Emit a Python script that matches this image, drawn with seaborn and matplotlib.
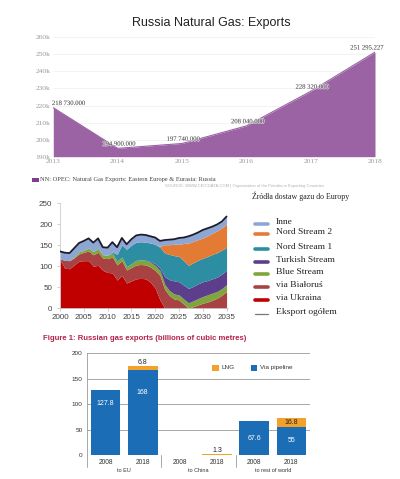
import numpy as np
import pandas as pd
import matplotlib
matplotlib.use("Agg")
import matplotlib.pyplot as plt
import matplotlib.transforms as mtransforms
import matplotlib.patheffects as pe
from matplotlib.lines import Line2D
from matplotlib.patches import Rectangle
import seaborn as sns

# ---------------- data: chart 1 (CEIC) ----------------
exp_years = [2013, 2014, 2015, 2016, 2017, 2018]
exp_values = [218730.000, 194900.000, 197740.000, 208040.000, 228320.000, 251295.227]
exp_yticks = [190000, 200000, 210000, 220000, 230000, 240000, 250000, 260000]
exp_ytick_labels = ["190k", "200k", "210k", "220k", "230k", "240k", "250k", "260k"]

# ---------------- data: chart 2 (sources of gas to Europe) ----------------
src_years = list(range(2000, 2036))
via_ukraina = [115, 95, 94, 103, 112, 113, 113, 100, 102, 90, 85, 84, 67, 78, 60, 65, 70, 71,
               70, 62, 48, 20, 0, 0, 0, 0, 0, 0, 0, 0, 0, 0, 0, 0, 0, 0]
via_bialorus = [2, 19, 19, 17, 17, 20, 23, 27, 31, 29, 33, 38, 36, 35, 31, 32, 33, 33,
                33, 36, 42, 58, 45, 30, 22, 20, 10, 0, 4, 8, 12, 15, 19, 24, 31, 40]
blue_stream = [0, 0, 0, 3, 5, 5, 7, 8, 9, 8, 8, 9, 9, 9, 8, 9, 11, 11,
               11, 11, 12, 12, 12, 12, 12, 12, 12, 13, 14, 15, 16, 17, 17, 16, 16, 16]
turkish_stream = [0, 0, 0, 0, 0, 0, 0, 0, 0, 0, 0, 0, 0, 0, 0, 0, 0, 0,
                  0, 2, 4, 6, 18, 26, 31, 31, 33, 34, 34, 35, 35, 34, 34, 34, 34, 34]
nord_stream_1 = [0, 0, 0, 0, 0, 0, 0, 0, 0, 0, 0, 3, 16, 29, 41, 44, 43, 43,
                 43, 44, 46, 49, 56, 60, 60, 60, 58, 55, 56, 56, 56, 57, 58, 58, 57, 55]
nord_stream_2 = [0, 0, 0, 0, 0, 0, 0, 0, 0, 0, 0, 0, 0, 0, 0, 0, 0, 0,
                 0, 0, 0, 2, 20, 23, 27, 29, 41, 53, 51, 49, 48, 49, 50, 52, 53, 55]
inne = [18, 18, 18, 20, 21, 22, 23, 21, 24, 18, 18, 23, 17, 16, 12, 14, 16, 17,
        17, 16, 16, 13, 11, 12, 12, 15, 14, 16, 16, 17, 19, 18, 16, 15, 15, 18]
eksport_ogolem = [135, 132, 131, 143, 155, 160, 166, 156, 166, 145, 144, 157, 145, 167, 152, 164,
                  173, 175, 174, 171, 168, 160, 162, 163, 164, 167, 168, 171, 175, 180, 186, 190,
                  194, 199, 206, 218]
src_labels = ["Inne", "Nord Stream 2", "Nord Stream 1", "Turkish Stream", "Blue Stream",
              "via Białoruś", "via Ukraina", "Eksport ogółem"]

# ---------------- data: chart 3 (Russian gas exports, bcm) ----------------
bar_groups = ["to EU", "to China", "to rest of world"]
bar_years = ["2008", "2018", "2008", "2018", "2008", "2018"]
via_pipeline = [127.8, 168, 0, 0, 67.6, 55]
lng = [0, 6.8, 0, 1.3, 0, 16.8]
pipe_labels = ["127.8", "168", "", "", "67.6", "55"]
lng_labels = ["", "6.8", "", "1.3", "", "16.8"]

# ---------------- figure ----------------
sns.set_theme(style="white")
plt.rcParams["font.family"] = ["Liberation Sans", "DejaVu Sans"]

W, H = 400, 479
fig = plt.figure(figsize=(W / 100, H / 100), dpi=100)
fig.patch.set_facecolor("white")


def fx(px):
    return px / W


def fy(py):
    return 1 - py / H


def axes_px(x0, y0, x1, y1):
    return fig.add_axes([fx(x0), fy(y1), fx(x1) - fx(x0), (y1 - y0) / H])


SERIF = ["Liberation Serif", "DejaVu Serif"]

# ===== chart 1 =====
ax1 = axes_px(53.3, 37.3, 375, 156.7)
purple = "#9b62a4"
ax1.fill_between(exp_years, exp_values, 190000, color=purple, linewidth=0, zorder=2)
sns.lineplot(x=exp_years, y=exp_values, ax=ax1, color=purple, linewidth=0.8, zorder=3)
ax1.set_xlim(2013, 2018)
ax1.set_ylim(190000, 260000)
ax1.set_yticks(exp_yticks)
ax1.set_yticklabels(exp_ytick_labels, family=SERIF, fontsize=5.4, color="#999999")
ax1.set_xticks(exp_years)
ax1.set_xticklabels([str(y) for y in exp_years], family=SERIF, fontsize=5.4, color="#999999")
ax1.tick_params(axis="both", length=0, pad=2)
ax1.grid(axis="y", color="#eeeeee", linewidth=0.5, zorder=0)
for s in ax1.spines.values():
    s.set_visible(False)
ax1.set_xlabel("")
ax1.set_ylabel("")
for i, (yr, v) in enumerate(zip(exp_years, exp_values)):
    txt = f"{v:,.3f}".replace(",", " ")
    if i == 0:
        ha, dx = "left", -1
    elif i == len(exp_years) - 1:
        ha, dx = "center", -6
    else:
        ha, dx = "center", 1
    ax1.annotate(txt, (yr, v), xytext=(dx, 3), textcoords="offset points", ha=ha, va="center",
                 fontsize=4.8, color="#555555", family=SERIF, zorder=5, annotation_clip=False,
                 path_effects=[pe.withStroke(linewidth=1.0, foreground=(1, 1, 1, 0.6))])

fig.text(fx(211), fy(22.7), "Russia Natural Gas: Exports", ha="center", va="center",
         fontsize=9, color="#222222", family=["Liberation Sans", "DejaVu Sans"])
fig.patches.append(Rectangle((fx(32), fy(182)), fx(7), 4 / H, transform=fig.transFigure,
                             color="#7d3f8c", linewidth=0))
fig.text(fx(40.5), fy(180), "NN: OPEC: Natural Gas Exports: Eastern Europe & Eurasia: Russia",
         ha="left", va="center", fontsize=4.6, color="#444444", family=SERIF)
fig.text(fx(165), fy(186.3),
         "SOURCE: WWW.CEICDATA.COM | Organization of the Petroleum Exporting Countries",
         ha="left", va="center", fontsize=3.0, color="#b0b0b0", family=["Liberation Sans", "DejaVu Sans"])

# ===== chart 2 =====
ax2 = axes_px(60, 203, 228, 308.3)
layers = [via_ukraina, via_bialorus, blue_stream, turkish_stream, nord_stream_1, nord_stream_2, inne]
layer_colors = ["#c00000", "#a94343", "#7fa63c", "#5d3e8c", "#2d8ea3", "#e37b35", "#8ea6d4"]
ax2.stackplot(src_years, *layers, colors=layer_colors, linewidth=0, zorder=2)
sns.lineplot(x=src_years, y=eksport_ogolem, ax=ax2, color="#1b1b2b", linewidth=1.3, zorder=4)
ax2.set_xlim(2000, 2035.3)
ax2.set_ylim(0, 250)
ax2.set_yticks([0, 50, 100, 150, 200, 250])
ax2.set_yticklabels(["0", "50", "100", "150", "200", "250"], fontsize=5.8, color="#444444")
ax2.set_xticks([2000, 2005, 2010, 2015, 2020, 2025, 2030, 2035])
ax2.set_xticklabels(["2000", "2005", "2010", "2015", "2020", "2025", "2030", "2035"],
                    fontsize=5.8, color="#444444")
ax2.tick_params(axis="y", length=2.5, width=0.5, color="#bbbbbb", pad=3, left=True)
ax2.tick_params(axis="x", length=2, width=0.5, color="#bbbbbb", pad=2, bottom=True)
for k in ("top", "right"):
    ax2.spines[k].set_visible(False)
for k in ("left", "bottom"):
    ax2.spines[k].set_color("#cccccc")
    ax2.spines[k].set_linewidth(0.6)
ax2.set_xlabel("")
ax2.set_ylabel("")

fig.text(fx(252.5), fy(196.7), "Źródła dostaw gazu do Europy", ha="left", va="center",
         fontsize=5.7, color="#222222", family=SERIF)
leg_colors = ["#8ea6d4", "#e37b35", "#2d8ea3", "#5d3e8c", "#7fa63c", "#a94343", "#c00000", "#777777"]
leg_label_y = [221.7, 232.2, 246.7, 259.7, 272.0, 285.0, 297.5, 311.7]
for lab, col, ly in zip(src_labels, leg_colors, leg_label_y):
    lw = 0.9 if lab == "Eksport ogółem" else 2.6
    fig.add_artist(Line2D([fx(255), fx(268)], [fy(ly + 2), fy(ly + 2)], color=col, linewidth=lw,
                          transform=fig.transFigure))
    fig.text(fx(276), fy(ly), lab, ha="left", va="center", fontsize=6.8, color="#222222",
             family=SERIF)

# ===== chart 3 =====
ax3 = axes_px(87, 353.3, 310, 455)
blue = "#1b6db5"
orange = "#f4a12b"
slots = [f"{g}-{y}" for g in bar_groups for y in ("2008", "2018")]
df3 = pd.DataFrame({"slot": slots, "pipeline": via_pipeline, "lng": lng})
sns.barplot(data=df3, x="slot", y="pipeline", order=slots, color=blue, width=0.8,
            saturation=1, ax=ax3, zorder=3, linewidth=0)
ax3.bar(range(len(slots)), lng, bottom=via_pipeline, width=0.8, color=orange, zorder=3,
        linewidth=0)
ax3.set_xlim(-0.5, 5.5)
ax3.set_ylim(0, 200)
ax3.set_yticks([0, 50, 100, 150, 200])
ax3.set_yticklabels(["0", "50", "100", "150", "200"], fontsize=4.6, color="#333333")
ax3.set_xticks(range(len(slots)))
ax3.set_xticklabels(bar_years, fontsize=4.8, color="#333333")
ax3.tick_params(axis="both", length=0)
ax3.tick_params(axis="y", pad=3)
ax3.tick_params(axis="x", pad=3)
ax3.grid(axis="y", color="#9a9a9a", linewidth=0.6, zorder=0)
ax3.set_axisbelow(True)
for k in ("top", "right", "bottom"):
    ax3.spines[k].set_visible(False)
ax3.spines["left"].set_color("#9a9a9a")
ax3.spines["left"].set_linewidth(0.6)
ax3.axhline(0, color="#9a9a9a", linewidth=0.6, zorder=1)
ax3.set_xlabel("")
ax3.set_ylabel("")
trans3 = mtransforms.blended_transform_factory(ax3.transData, ax3.transAxes)
for xs in (-0.5, 1.5, 3.5):
    ax3.plot([xs, xs], [0, -0.115], transform=trans3, color="#9a9a9a", linewidth=0.6,
             clip_on=False, zorder=1)
for gi, g in enumerate(bar_groups):
    ax3.text(gi * 2 + 0.5, -0.148, g, transform=trans3, ha="center", va="center",
             fontsize=4.0, color="#333333")
pipe_offsets = [27.4, 45.4, 0, 0, 34.8, 27]
for i, (p, lab) in enumerate(zip(via_pipeline, pipe_labels)):
    if lab:
        ax3.text(i, p - pipe_offsets[i], lab, ha="center", va="center", fontsize=5,
                 color="white", zorder=5)
for i, (p, l, lab) in enumerate(zip(via_pipeline, lng, lng_labels)):
    if lab:
        if l < 10:
            ax3.text(i, p + l + 7, lab, ha="center", va="center", fontsize=5,
                     color="#222222", zorder=5)
        else:
            ax3.text(i, p + l / 2, lab, ha="center", va="center", fontsize=5,
                     color="#222222", zorder=5)

fig.patches.append(Rectangle((fx(212), fy(370.5)), fx(6.5), 5.5 / H, transform=fig.transFigure,
                             color=orange, linewidth=0))
fig.text(fx(221), fy(367.5), "LNG", ha="left", va="center", fontsize=4.6, color="#333333")
fig.patches.append(Rectangle((fx(250.7), fy(370.5)), fx(6.5), 5.5 / H, transform=fig.transFigure,
                             color=blue, linewidth=0))
fig.text(fx(260.5), fy(367.5), "Via pipeline", ha="left", va="center", fontsize=4.6,
         color="#333333")
fig.text(fx(43), fy(338), "Figure 1: Russian gas exports (billions of cubic metres)",
         ha="left", va="center", fontsize=5.6, fontweight="bold", color="#b3224c",
         family=["Liberation Sans Narrow", "Liberation Sans", "DejaVu Sans"])

fig.savefig("out.png", dpi=100, facecolor="white")
